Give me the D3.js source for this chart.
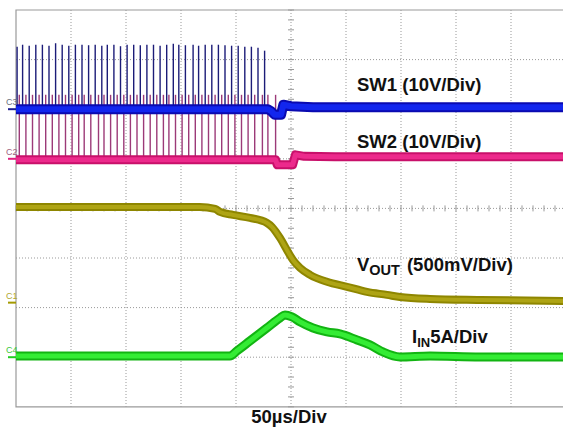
<!DOCTYPE html>
<html>
<head>
<meta charset="utf-8">
<script src="https://cdn.jsdelivr.net/npm/d3@7"></script>
<style>
  body { margin: 0; background: #fff; }
  text { font-family: "Liberation Sans", Arial, sans-serif; }
</style>
</head>
<body>
<div id="scope"></div>
<script>
// ---- DATA (time in us, 0 = screen centre; values in channel units, relative to channel marker)
var channels = ["C3", "C2", "C1", "C4"]
var channelNames = ["SW1", "SW2", "VOUT", "IIN"]
var channelOffsetDiv = [2.0, 1.0, -1.9, -3.0]
var channelPerDiv = [10, 10, 0.5, 5]

// switching spikes
var sw1SpikeTimes = [-249, -244, -238, -232, -226, -220, -214, -208, -202, -196, -190, -184, -178, -172, -167, -161, -155, -149, -143, -137, -131, -125, -119, -113, -107, -102, -96, -89, -84, -78, -72, -66, -60, -54, -48, -42, -36, -30, -24]
var sw1SpikePeaks = [12.6, 13.0, 12.8, 13.0, 13.0, 12.8, 13.3, 13.0, 12.8, 13.0, 13.0, 12.9, 13.0, 12.8, 13.0, 13.0, 12.7, 13.0, 13.0, 12.9, 13.0, 13.0, 12.8, 13.0, 13.2, 13.0, 12.9, 13.0, 12.8, 13.0, 13.0, 13.0, 12.9, 12.8, 12.8, 12.6, 12.6, 12.4, 11.8]
var sw2SpikeTimes = [-247, -241, -235, -229, -223, -217, -211, -205, -199, -193, -188, -182, -175, -170, -164, -158, -152, -146, -140, -134, -128, -122, -116, -111, -105, -99, -93, -87, -81, -75, -69, -63, -57, -51, -45, -39, -33, -26, -21, -14]
var sw2SpikePeak = 12.9

// band (baseline) traces: [t, value]
var sw1Band = [[-250, 0], [-21, 0], [-18, -0.4], [-15, -1.1], [-9, -1.1], [-7, 0.9], [0, 0.6], [20, 0.4], [250, 0.4]]
var sw2Band = [[-250, -0.2], [-14, -0.2], [-12.5, -1.2], [1.5, -1.2], [4, 0.8], [12, 0.5], [40, 0.4], [250, 0.4]]
var voutBand = [[-250, 0.965], [-83, 0.965], [-69, 0.945], [-64.5, 0.914], [-52.7, 0.884], [-37.3, 0.854], [-21.8, 0.803], [-17.3, 0.763], [-10, 0.652], [-2.7, 0.511], [1.8, 0.43], [8.2, 0.35], [17.3, 0.28], [32.7, 0.21], [50.9, 0.16], [69.1, 0.108], [87.3, 0.078], [99.1, 0.057], [126.4, 0.037], [171.8, 0.027], [250, 0.017]]
var iinBand = [[-250, 0.13], [-55.5, 0.13], [-49.1, 0.64], [-37.3, 1.64], [-21.8, 2.96], [-10, 3.96], [-5.5, 4.26], [0.9, 4.06], [8.2, 3.56], [20, 2.95], [32.7, 2.55], [44.5, 2.35], [60, 1.74], [71.8, 1.24], [83.6, 0.53], [99, 0.03], [126.4, 0.13], [171.8, 0.03], [250, 0.03]]

var timeBase = "50\u00b5s/Div"

// ---- LAYOUT
var W = 563, H = 428
var plotLeft = 16, plotTop = 10, divW = 55, divH = 49.6

var svg = d3.select("#scope").append("svg")
    .attr("width", W).attr("height", H)

var x = d3.scaleLinear().domain([-250, 250]).range([plotLeft, plotLeft + 10 * divW])
var yDiv = d3.scaleLinear().domain([-4, 4]).range([plotTop + 8 * divH, plotTop])

function chY(ci) {
  return function(v) { return yDiv(channelOffsetDiv[ci] + v / channelPerDiv[ci]) }
}

// GRID
var grid = svg.append("g")
grid.selectAll(".vg").data(d3.range(-200, 251, 50)).enter().append("line")
    .attr("x1", d => x(d)).attr("x2", d => x(d))
    .attr("y1", plotTop).attr("y2", yDiv(-4))
    .attr("stroke", "#999").attr("stroke-width", 1).attr("stroke-dasharray", "1,2")
grid.selectAll(".hg").data(d3.range(-3, 4, 1)).enter().append("line")
    .attr("x1", plotLeft).attr("x2", x(250))
    .attr("y1", d => yDiv(d)).attr("y2", d => yDiv(d))
    .attr("stroke", "#999").attr("stroke-width", 1).attr("stroke-dasharray", "1,2")

// centre minor ticks
grid.selectAll(".mt").data(d3.range(-250, 251, 10)).enter().append("line")
    .attr("x1", d => x(d)).attr("x2", d => x(d))
    .attr("y1", yDiv(0) - 3).attr("y2", yDiv(0) + 3)
    .attr("stroke", "#999").attr("stroke-width", 1)
grid.selectAll(".mty").data(d3.range(-4, 4.01, 0.2)).enter().append("line")
    .attr("x1", x(0) - 3).attr("x2", x(0) + 3)
    .attr("y1", d => yDiv(d)).attr("y2", d => yDiv(d))
    .attr("stroke", "#999").attr("stroke-width", 1)

// border
svg.append("path")
    .attr("d", "M" + x(250) + "," + plotTop + "H" + plotLeft + "V" + yDiv(-4) + "H" + x(250))
    .attr("fill", "none").attr("stroke", "#9a9a9a").attr("stroke-width", 1.2)

var line = function(ci, curve) {
  var yy = chY(ci)
  return d3.line().curve(curve).x(d => x(d[0])).y(d => yy(d[1]))
}

// SW2 spikes (behind everything)
svg.append("g").selectAll("line").data(sw2SpikeTimes).enter().append("line")
    .attr("x1", d => x(d)).attr("x2", d => x(d))
    .attr("y1", chY(1)(0)).attr("y2", chY(1)(sw2SpikePeak))
    .attr("stroke", "#9c3a78").attr("stroke-width", 1.4)

// SW1 spikes
svg.append("g").selectAll("line").data(sw1SpikeTimes).enter().append("line")
    .attr("x1", d => x(d)).attr("x2", d => x(d))
    .attr("y1", chY(0)(0)).attr("y2", (d, i) => chY(0)(sw1SpikePeaks[i]))
    .attr("stroke", "#1c1c78").attr("stroke-width", 1.4)

function band(data, ci, outer, inner, w, curve) {
  svg.append("path").datum(data).attr("d", line(ci, curve))
      .attr("fill", "none").attr("stroke", outer).attr("stroke-width", w)
      .attr("stroke-linejoin", "round")
  svg.append("path").datum(data).attr("d", line(ci, curve))
      .attr("fill", "none").attr("stroke", inner).attr("stroke-width", w - 4)
      .attr("stroke-linejoin", "round")
}

band(sw1Band, 0, "#0a0ab0", "#1226ee", 10, d3.curveLinear)
band(sw2Band, 1, "#c8106a", "#ec2a8c", 9, d3.curveLinear)
band(voutBand, 2, "#8e8600", "#aea414", 8, d3.curveMonotoneX)
band(iinBand, 3, "#12b412", "#34ec34", 9, d3.curveMonotoneX)

// channel markers
var markerColors = ["#1c1c90", "#e0207e", "#a49a00", "#22cc22"]
var markerText = ["#6a7080", "#a06080", "#b0a830", "#3cc83c"]
channels.forEach(function(c, i) {
  var yy = chY(i)(0)
  svg.append("line").attr("x1", 8).attr("x2", 16).attr("y1", yy).attr("y2", yy)
      .attr("stroke", markerColors[i]).attr("stroke-width", 2)
  svg.append("text").attr("x", 6).attr("y", yy - 4).text(c)
      .attr("font-size", 9).attr("fill", markerText[i])
})

// labels
var lbl = svg.append("g").attr("font-weight", "bold").attr("font-size", 18.5).attr("fill", "#111")
lbl.append("text").attr("x", 357).attr("y", 91).text(channelNames[0] + " (10V/Div)")
lbl.append("text").attr("x", 357).attr("y", 148).text(channelNames[1] + " (10V/Div)")

var vt = lbl.append("text").attr("x", 357).attr("y", 271)
vt.append("tspan").text("V")
vt.append("tspan").attr("font-size", 14.5).attr("dy", 4).text("OUT")
vt.append("tspan").attr("dy", -4).attr("dx", 7).text("(500mV/Div)")

var it = lbl.append("text").attr("x", 412).attr("y", 343)
it.append("tspan").text("I")
it.append("tspan").attr("font-size", 13).attr("dy", 4).text("IN")
it.append("tspan").attr("dy", -4).text("5A/Div")

lbl.append("text").attr("x", 289).attr("y", 423).attr("text-anchor", "middle").text(timeBase)
</script>
</body>
</html>
